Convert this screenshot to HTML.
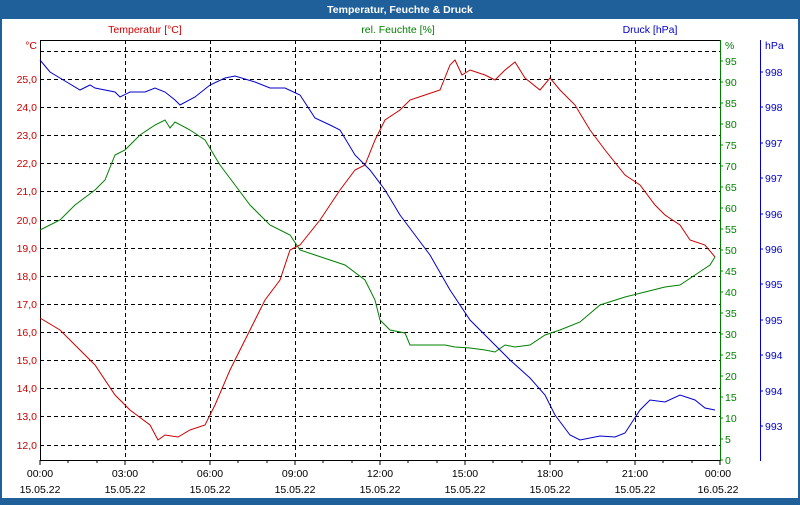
<!DOCTYPE html>
<html><head><meta charset="utf-8"><style>
body{margin:0;width:800px;height:500px;overflow:hidden;background:#1f5f9a;font-family:"Liberation Sans",sans-serif}
</style></head><body>
<svg width="800" height="500" xmlns="http://www.w3.org/2000/svg" font-family="Liberation Sans, sans-serif" font-size="10.5">
<rect x="0" y="0" width="800" height="500" fill="#1f5f9a"/>
<rect x="2" y="19" width="796" height="479" fill="#fff"/>
<text x="400" y="13" fill="#fff" font-weight="bold" text-anchor="middle">Temperatur, Feuchte &amp; Druck</text>
<g stroke="#000" stroke-dasharray="4,3" stroke-width="1">
<line x1="40" x2="720" y1="51.5" y2="51.5"/><line x1="40" x2="720" y1="79.5" y2="79.5"/><line x1="40" x2="720" y1="107.5" y2="107.5"/><line x1="40" x2="720" y1="135.5" y2="135.5"/><line x1="40" x2="720" y1="163.5" y2="163.5"/><line x1="40" x2="720" y1="191.5" y2="191.5"/><line x1="40" x2="720" y1="220.5" y2="220.5"/><line x1="40" x2="720" y1="248.5" y2="248.5"/><line x1="40" x2="720" y1="276.5" y2="276.5"/><line x1="40" x2="720" y1="304.5" y2="304.5"/><line x1="40" x2="720" y1="332.5" y2="332.5"/><line x1="40" x2="720" y1="360.5" y2="360.5"/><line x1="40" x2="720" y1="388.5" y2="388.5"/><line x1="40" x2="720" y1="416.5" y2="416.5"/><line x1="40" x2="720" y1="445.5" y2="445.5"/>
<line y1="40" y2="460" x1="125.5" x2="125.5"/><line y1="40" y2="460" x1="210.5" x2="210.5"/><line y1="40" y2="460" x1="295.5" x2="295.5"/><line y1="40" y2="460" x1="380.5" x2="380.5"/><line y1="40" y2="460" x1="465.5" x2="465.5"/><line y1="40" y2="460" x1="550.5" x2="550.5"/><line y1="40" y2="460" x1="635.5" x2="635.5"/>
</g>
<line x1="40" x2="720" y1="40.5" y2="40.5" stroke="#000"/>
<line x1="40" x2="720" y1="460.5" y2="460.5" stroke="#000"/>
<line x1="40.5" x2="40.5" y1="40" y2="461" stroke="#000"/>
<line x1="720.5" x2="720.5" y1="40" y2="461" stroke="#008000"/>
<line x1="760.5" x2="760.5" y1="40" y2="461" stroke="#0000cc"/>
<g stroke="#000">
<path d="M40 460v5M68 460v3M97 460v3M125 460v5M153 460v3M182 460v3M210 460v5M238 460v3M267 460v3M295 460v5M323 460v3M352 460v3M380 460v5M408 460v3M437 460v3M465 460v5M493 460v3M522 460v3M550 460v5M578 460v3M607 460v3M635 460v5M663 460v3M692 460v3M720 460v5"/>
</g>
<g fill="#cc0000" text-anchor="end">
<text x="37" y="49">°C</text>
<text x="37" y="83">25,0</text><text x="37" y="111">24,0</text><text x="37" y="139">23,0</text><text x="37" y="167">22,0</text><text x="37" y="195">21,0</text><text x="37" y="224">20,0</text><text x="37" y="252">19,0</text><text x="37" y="280">18,0</text><text x="37" y="308">17,0</text><text x="37" y="336">16,0</text><text x="37" y="364">15,0</text><text x="37" y="392">14,0</text><text x="37" y="420">13,0</text><text x="37" y="449">12,0</text>
</g>
<text x="145" y="33" fill="#cc0000" text-anchor="middle">Temperatur [°C]</text>
<text x="398" y="33" fill="#008000" text-anchor="middle">rel. Feuchte [%]</text>
<text x="650" y="33" fill="#0000cc" text-anchor="middle">Druck [hPa]</text>
<g fill="#008000">
<text x="725" y="49">%</text>
<text x="725" y="65">95</text><text x="725" y="86">90</text><text x="725" y="107">85</text><text x="725" y="128">80</text><text x="725" y="149">75</text><text x="725" y="170">70</text><text x="725" y="191">65</text><text x="725" y="212">60</text><text x="725" y="233">55</text><text x="725" y="254">50</text><text x="725" y="275">45</text><text x="725" y="296">40</text><text x="725" y="317">35</text><text x="725" y="338">30</text><text x="725" y="359">25</text><text x="725" y="380">20</text><text x="725" y="401">15</text><text x="725" y="422">10</text><text x="725" y="443">5</text><text x="725" y="464">0</text>
</g>
<path stroke="#008000" d="M720 61h3M720 82h3M720 103h3M720 124h3M720 145h3M720 166h3M720 187h3M720 208h3M720 229h3M720 250h3M720 271h3M720 292h3M720 313h3M720 334h3M720 355h3M720 376h3M720 397h3M720 418h3M720 439h3M720 460h3"/>
<g fill="#0000cc">
<text x="765" y="49">hPa</text>
<text x="765" y="76">998</text><text x="765" y="111">998</text><text x="765" y="147">997</text><text x="765" y="182">997</text><text x="765" y="218">996</text><text x="765" y="253">996</text><text x="765" y="288">995</text><text x="765" y="324">995</text><text x="765" y="359">994</text><text x="765" y="395">994</text><text x="765" y="430">993</text>
</g>
<path stroke="#0000cc" d="M760 72h3M760 107h3M760 143h3M760 178h3M760 214h3M760 249h3M760 284h3M760 320h3M760 355h3M760 391h3M760 426h3"/>
<g fill="#000" text-anchor="middle">
<text x="40" y="477">00:00</text><text x="125" y="477">03:00</text><text x="210" y="477">06:00</text><text x="295" y="477">09:00</text><text x="380" y="477">12:00</text><text x="465" y="477">15:00</text><text x="550" y="477">18:00</text><text x="635" y="477">21:00</text><text x="718" y="477">00:00</text>
<text x="40" y="493">15.05.22</text><text x="125" y="493">15.05.22</text><text x="210" y="493">15.05.22</text><text x="295" y="493">15.05.22</text><text x="380" y="493">15.05.22</text><text x="465" y="493">15.05.22</text><text x="550" y="493">15.05.22</text><text x="635" y="493">15.05.22</text><text x="718" y="493">16.05.22</text>
</g>
<g fill="none" stroke-width="1">
<polyline stroke="#cc0000" points="40,318 60,330 75,345 95,365 115,395 130,410 150,425 158,440 165,435 178,437 190,430 205,425 215,405 230,370 245,340 255,320 265,300 280,280 290,250 300,245 320,220 340,190 355,170 365,165 375,140 385,120 400,110 410,100 425,95 440,90 450,65 455,60 462,75 470,70 485,75 495,80 505,70 515,62 525,78 540,90 550,78 560,90 575,105 590,130 605,150 625,175 640,185 655,205 665,215 680,225 690,240 705,245 715,257"/>
<polyline stroke="#008000" points="40,230 60,220 75,205 95,190 105,180 115,155 125,150 140,135 155,125 165,120 170,128 175,122 190,130 205,140 220,165 235,185 250,205 270,225 290,235 300,250 315,255 330,260 345,265 365,280 375,300 380,320 390,330 405,333 410,345 425,345 445,345 455,347 470,348 485,350 495,352 505,345 515,347 530,345 545,335 560,330 580,322 600,305 625,297 645,292 665,287 680,285 695,275 710,265 715,257"/>
<polyline stroke="#0000cc" points="40,60 50,72 60,78 80,90 90,85 95,88 115,92 120,97 130,92 145,92 155,88 165,92 175,100 180,105 195,97 210,85 225,78 235,76 255,82 270,88 285,88 300,95 315,118 330,125 340,130 355,155 370,170 385,190 400,215 415,235 430,255 450,290 470,320 490,340 510,360 530,378 545,395 555,415 570,435 580,440 600,436 615,437 625,433 640,410 650,400 665,402 680,395 695,400 705,408 715,410"/>
</g>
</svg>
</body></html>
